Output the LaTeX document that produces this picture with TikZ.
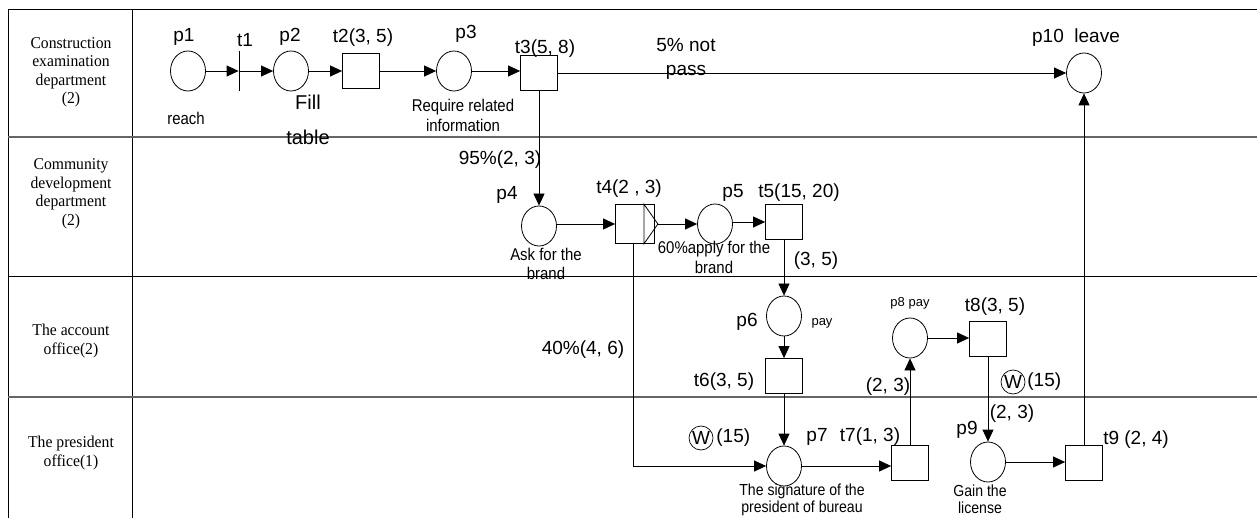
\documentclass[tikz,border=0pt]{standalone}
\usepackage{fontspec}
\setmainfont{Liberation Sans}
\newfontfamily\lanefont[FakeStretch=0.95]{Liberation Serif}
\newfontfamily\narrowfont[FakeStretch=0.88]{Liberation Sans}
\usetikzlibrary{arrows.meta,shapes.geometric,calc}
\begin{document}
\begin{tikzpicture}[x=1pt,y=-1pt,line width=0.8pt,
  >={Triangle[length=12pt,width=11pt]},
  place/.style={draw,ellipse,minimum width=35pt,minimum height=40pt,inner sep=0pt},
  trans/.style={draw,rectangle,minimum width=37pt,minimum height=35pt,inner sep=0pt},
  big/.style={font=\fontsize{19}{21}\selectfont,inner sep=0pt,align=center},
  small/.style={font=\narrowfont\fontsize{17}{19}\selectfont,inner sep=0pt,align=center},
  tiny/.style={font=\fontsize{13}{15}\selectfont,inner sep=0pt},
  lane/.style={font=\lanefont\fontsize{16.5}{18.5}\selectfont,inner sep=0pt,align=center},
  grid/.style={line width=0.9pt},
  gridgray/.style={line width=1.3pt,draw=black!60},
  wmark/.style={draw,circle,line width=0.7pt,inner sep=0pt,minimum size=24pt,font=\fontsize{19}{21}\selectfont}]
\useasboundingbox (0,0) rectangle (1257,518);
% table
\coordinate (tl) at (8,9);
\coordinate (tr) at (1257,9);
\coordinate (bl) at (8,518);
\coordinate (cT) at (132,9);
\coordinate (cB) at (132,518);
\coordinate (r1l) at (8,137);  \coordinate (r1r) at (1257,137);
\coordinate (r2l) at (8,276);  \coordinate (r2r) at (1257,276);
\coordinate (r3l) at (8,397);  \coordinate (r3r) at (1257,397);
\draw[grid] (tr) -- (tl) -- (bl);
\draw[grid] (cT) -- (cB);
\draw[gridgray] (r1l) -- (r1r);
\draw[grid] (r2l) -- (r2r);
\draw[gridgray] (r3l) -- (r3r);
% lane labels
\node[lane] (lane1) at (71,72.5) {Construction\\examination\\department\\(2)};
\node[lane] (lane2) at (71,194) {Community\\development\\department\\(2)};
\node[lane] (lane3) at (71,341) {The account\\office(2)};
\node[lane] (lane4) at (71,453) {The president\\office(1)};
% row 1
\node[place] (p1) at (188,71) {};
\node[minimum width=0pt,minimum height=40pt,inner sep=0pt] (t1) at (239,71) {};
\draw (t1.north) -- (t1.south);
\node[place] (p2) at (291,71) {};
\node[trans] (t2) at (361,71) {};
\node[place] (p3) at (454,71) {};
\node[trans] (t3) at (539,73) {};
\node[place] (p10) at (1084,73) {};
% row 2
\node[place] (p4) at (539,226) {};
\node[trans,minimum width=39pt,minimum height=39pt] (t4) at (635,224) {};
\coordinate (t4tip) at ($(t4.east)+(3,0)$);
\draw ($(t4.north east)+(-11,0)$) -- (t4tip) -- ($(t4.south east)+(-11,0)$) -- cycle;
\node[place] (p5) at (715,224) {};
\node[trans] (t5) at (784,222) {};
% row 3
\node[place] (p6) at (784,316) {};
\node[trans] (t6) at (784,376) {};
\node[place] (p8) at (910,338) {};
\node[trans] (t8) at (988,339) {};
% row 4
\node[place] (p7) at (784,466) {};
\node[trans] (t7) at (910,463) {};
\node[place] (p9) at (988,462) {};
\node[trans] (t9) at (1084,463) {};
% arcs
\draw[->] (p1) -- (t1);
\draw[->] (t1) -- (p2);
\draw[->] (p2) -- (t2);
\draw[->] (t2) -- (p3);
\draw[->] (p3.east) -- (p3.east -| t3.west);
\draw[->] (t3) -- (p10);
\draw[->] (t3) -- (p4);
\draw[->] (p4.east |- t4) -- (t4);
\draw[->] (t4tip) -- (p5);
\draw[->] (p5.east |- t5) -- (t5);
\draw[->] (t5) -- (p6);
\draw[->] (p6) -- (t6);
\draw[->] (t6) -- (p7);
\draw[->] ($(t4.south)+(-2,0)$) |- (p7.west);
\draw[->] (p7.east) -- (p7.east -| t7.west);
\draw[->] (t7) -- (p8);
\draw[->] (p8.east) -- (p8.east -| t8.west);
\draw[->] (t8) -- (p9);
\draw[->] (p9.east) -- (p9.east -| t9.west);
\draw[->] (t9) -- (p10);
% labels row 1
\node[big] (lp1) at (184,37) {p1};
\node[big] (lt1) at (245,40) {t1};
\node[big] (lp2) at (290,37) {p2};
\node[big] (lt2) at (363,38) {t2(3, 5)};
\node[big] (lp3) at (466,34) {p3};
\node[big] (lt3) at (545,49) {t3(5, 8)};
\node[big,font=\fontsize{19}{24}\selectfont] (l5pc) at (686,59) {5\% not\\pass};
\node[big] (lp10) at (1076,38) {p10 \ leave};
\node[small] (lreach) at (186,118) {reach};
\node[big,font=\fontsize{20}{35}\selectfont] (lfill) at (308,120) {Fill\\table};
\node[small,font=\narrowfont\fontsize{17}{20}\selectfont] (lreq) at (463,115) {Require related\\information};
% labels row 2
\node[big] (l95) at (500,160) {95\%(2, 3)};
\node[big] (lp4) at (507,195) {p4};
\node[big] (lt4) at (629,189) {t4(2 , 3)};
\node[big] (lp5) at (733,193) {p5};
\node[big] (lt5) at (799,193) {t5(15, 20)};
\node[big] (l35) at (816,261) {(3, 5)};
\node[small] (lask) at (546,264) {Ask for the\\brand};
\node[small,font=\narrowfont\fontsize{17}{20}\selectfont] (l60) at (714,257) {60\%apply for the\\brand};
% labels row 3
\node[big] (lp6) at (747,322) {p6};
\node[tiny] (lpay) at (822,323) {pay};
\node[big] (lt6) at (724,382) {t6(3, 5)};
\node[big] (l40) at (583,350) {40\%(4, 6)};
\node[tiny] (lp8) at (910,303) {p8 pay};
\node[big] (lt8) at (995,307) {t8(3, 5)};
\node[wmark] (w1) at (1013,382) {W};
\node[big,anchor=west] (w1t) at (1027,382) {(15)};
\node[big] (l23a) at (888,387) {(2, 3)};
% labels row 4
\node[big] (l23b) at (1012,414) {(2, 3)};
\node[big] (lp9) at (967,430) {p9};
\node[big] (lt9) at (1136,440) {t9 (2, 4)};
\node[small,font=\narrowfont\fontsize{16}{17.5}\selectfont] (lgain) at (980,499.5) {Gain the\\license};
\node[wmark] (w2) at (701,438) {W};
\node[big,anchor=west] (w2t) at (716,438) {(15)};
\node[big] (lp7) at (817,437) {p7};
\node[big] (lt7) at (870,437) {t7(1, 3)};
\node[small,font=\narrowfont\fontsize{16}{17.5}\selectfont] (lsig) at (802,500) {The signature of the\\president of bureau};
\end{tikzpicture}
\end{document}
